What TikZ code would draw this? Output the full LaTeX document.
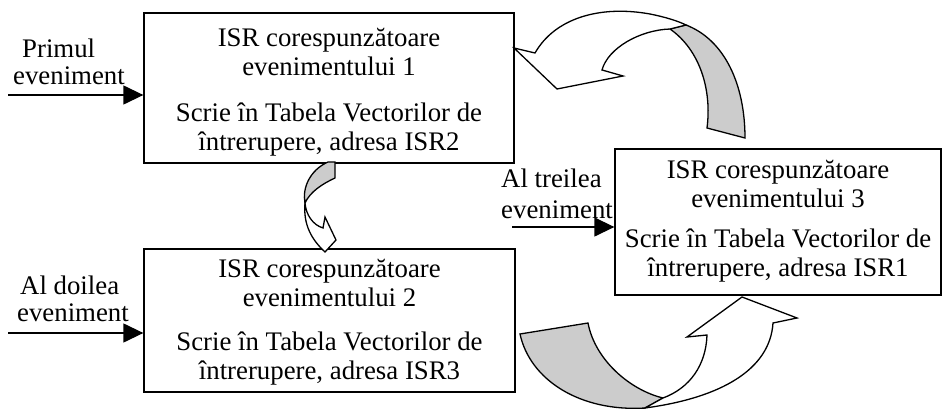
\documentclass[tikz,border=0pt]{standalone}
\usepackage{fontspec}
\setmainfont{Liberation Serif}
\usetikzlibrary{arrows.meta}
\definecolor{ribbongray}{RGB}{204,204,204}
\tikzset{
  isrbox/.style={draw, line width=1.3pt, inner sep=0pt},
  isrtext/.style={align=center, inner sep=0pt, anchor=north,
    font=\fontsize{26.8}{29}\selectfont},
  evlabel/.style={align=left, inner sep=0pt, anchor=north west,
    font=\fontsize{26.8}{27}\selectfont},
  evarrow/.style={line width=1.3pt, -{Triangle[length=20pt,width=19pt]}},
  ribbon/.style={draw, line width=1.3pt, line join=miter, fill=white},
  ribbonback/.style={ribbon, fill=ribbongray}
}
\begin{document}
\begin{tikzpicture}[x=1pt,y=-1pt]
\useasboundingbox (0,0) rectangle (943,409);
% boxes
\node[isrbox, minimum width=370pt, minimum height=150pt] (b1) at (329,88) {};
\node[isrbox, minimum width=371pt, minimum height=143pt] (b2) at (329.5,320.5) {};
\node[isrbox, minimum width=326pt, minimum height=146pt] (b3) at (778,222) {};
\node[isrtext, yshift=-16pt] (t1) at (b1.north)
  {ISR corespunzătoare\\evenimentului 1\\[17pt]Scrie în Tabela Vectorilor de\\întrerupere, adresa ISR2};
\node[isrtext, yshift=-11pt] (t2) at (b2.north)
  {ISR corespunzătoare\\evenimentului 2\\[15pt]Scrie în Tabela Vectorilor de\\întrerupere, adresa ISR3};
\node[isrtext, yshift=-12pt] (t3) at (b3.north)
  {ISR corespunzătoare\\evenimentului 3\\[11pt]Scrie în Tabela Vectorilor de\\întrerupere, adresa ISR1};
% event labels
\node[evlabel] (l1) at (13,39) {\hspace*{9pt}Primul\\eveniment};
\node[evlabel] (l2) at (17,276) {\hspace*{3pt}Al doilea\\eveniment};
\node[evlabel] (l3) at (501,169) {Al treilea\\[3.5pt]eveniment};
% event arrows
\coordinate (s1) at (8,95);
\coordinate (s2) at (8,333);
\coordinate (s3) at (512,227);
\draw[evarrow] (s1) -- (s1 -| b1.west);
\draw[evarrow] (s2) -- (s2 -| b2.west);
\draw[evarrow] (s3) -- (s3 -| b3.west);
% curved arrow from box 3 to box 1
\path[ribbonback] (686,25) .. controls (725,40) and (745,85) .. (745,138)
  -- (707,128) .. controls (712,90) and (700,50) .. (670,29) -- cycle;
\path[ribbon] (514,48) -- (535,53) .. controls (555,18) and (600,5) .. (650,14)
  .. controls (665,17) and (678,21) .. (686,25) -- (670,29)
  .. controls (640,30) and (608,48) .. (602,70) -- (623,76) -- (557,89) -- cycle;
% curved arrow from box 1 to box 2
\path[ribbonback] (328,162) -- (335,162) -- (335,178)
  .. controls (322,184) and (310,192) .. (305,203)
  .. controls (302,188) and (310,170) .. (328,162) -- cycle;
\path[ribbon] (305,203) .. controls (306,215) and (313,225) .. (323,228)
  -- (325,217) -- (336,240) -- (325,252)
  .. controls (312,240) and (303,225) .. (305,203) -- cycle;
% curved arrow from box 2 to box 3
\path[ribbonback] (520,334) -- (588,323) .. controls (595,360) and (630,390) .. (663,398)
  -- (645,408) .. controls (580,412) and (530,380) .. (520,334) -- cycle;
\path[ribbon] (645,408) .. controls (720,398) and (770,370) .. (773,323)
  -- (797,318) -- (742,297) -- (687,337) -- (707,335)
  .. controls (706,365) and (690,388) .. (663,398) -- cycle;
\end{tikzpicture}
\end{document}
